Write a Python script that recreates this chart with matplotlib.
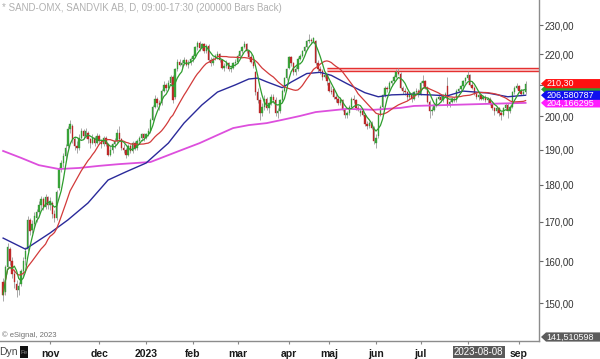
import matplotlib
matplotlib.use('Agg')
import matplotlib.pyplot as plt
from matplotlib.patches import Polygon, Rectangle
from matplotlib.ticker import FixedLocator, FuncFormatter, NullLocator
import numpy as np
import pandas as pd

plt.rcParams['font.family'] = ['Liberation Sans', 'DejaVu Sans']

# handelsdagar Nasdaq Stockholm
holidays = ['2022-12-26', '2023-01-06', '2023-04-07', '2023-04-10',
            '2023-05-01', '2023-05-18', '2023-06-06', '2023-06-23']
dates = pd.bdate_range('2022-10-03', '2023-09-06', freq='C', holidays=holidays)

# OHLC (okt 2022 - sep 2023)
opens = [
    155.0, 152.5, 158.5, 163.0, 160.0, 157.0, 154.5, 153.0, 154.5, 157.5, 160.5, 163.0, 170.5, 168.0, 169.5, 171.0, 172.5, 174.5, 176.0, 174.0, 176.5,
    174.5, 175.0, 172.0, 171.0, 179.0, 184.5, 186.0, 188.0, 191.0, 196.0, 197.0, 193.0, 191.0, 190.5, 193.5, 195.5, 194.0, 195.0, 193.0, 192.0, 193.5, 192.0,
    194.0, 192.5, 191.5, 193.5, 191.5, 188.5, 190.0, 191.5, 192.5, 195.0, 193.0, 190.5, 190.0, 188.5, 191.0, 189.5, 192.0, 190.5, 192.5, 193.5, 194.5,
    193.5, 194.5, 195.5, 199.0, 203.0, 205.5, 204.0, 204.0, 208.0, 210.0, 209.0, 210.5, 212.5, 206.0, 215.0, 217.5, 216.5, 217.0, 218.0, 216.5, 217.0,
    218.5, 219.5, 222.5, 224.0, 222.0, 223.5, 221.0, 223.0, 218.0, 217.0, 218.5, 219.5, 220.0, 218.0, 215.5, 216.0, 217.0, 215.0, 215.5, 217.0,
    217.5, 219.5, 221.0, 222.5, 223.5, 221.0, 219.0, 217.5, 214.0, 207.5, 205.0, 201.0, 203.0, 205.5, 202.5, 204.0, 206.0, 205.0, 201.0, 201.5, 205.0, 208.0, 212.0,
    215.5, 219.0, 217.0, 214.0, 215.0, 218.5, 219.5, 221.0, 222.5, 224.5, 225.0, 224.5, 224.5, 217.0, 215.0, 214.5, 212.5, 213.0,
    210.5, 208.0, 208.5, 206.0, 205.5, 204.0, 205.0, 202.0, 200.5, 201.0, 203.0, 205.5, 205.0, 202.5, 201.0, 201.5, 200.5, 197.5, 197.0, 198.0, 196.5,
    192.0, 194.0, 200.5, 203.0, 206.5, 209.0, 208.5, 210.5, 211.0, 212.5, 214.0, 213.5, 209.0, 208.0, 207.5, 206.0, 207.0, 205.5, 207.5, 208.0,
    207.0, 210.5, 211.0, 209.0, 204.5, 201.5, 202.0, 203.5, 205.5, 206.0, 205.0, 206.5, 209.5, 203.5, 204.5, 205.5, 205.0, 208.0, 208.5, 209.5, 211.0,
    212.0, 213.0, 210.0, 209.0, 207.0, 206.0, 206.5, 205.5, 206.0, 205.0, 205.5, 204.0, 202.5, 201.5, 202.5, 201.0, 200.5, 202.5, 203.5, 201.5, 203.0, 207.5, 209.0,
    209.5, 208.0, 207.0, 207.5,
]
highs = [
    156.0, 159.0, 164.5, 163.5, 161.0, 158.0, 155.5, 155.0, 158.0, 161.0, 163.5, 171.5, 171.0, 170.5, 172.5, 173.5, 175.5, 177.0, 176.5, 177.5, 177.0,
    176.5, 175.5, 173.0, 178.5, 185.0, 187.0, 189.0, 191.5, 197.0, 199.0, 197.5, 194.0, 192.5, 194.5, 196.5, 196.0, 196.5, 195.5, 193.5, 194.5, 194.0, 195.0,
    194.5, 193.0, 194.0, 194.0, 192.0, 191.0, 192.0, 193.5, 196.0, 197.0, 193.5, 191.5, 190.5, 191.5, 191.5, 192.5, 192.5, 193.0, 194.0, 195.0, 195.0,
    195.0, 196.5, 199.5, 203.5, 206.5, 206.0, 205.0, 208.5, 211.0, 210.5, 211.5, 213.0, 213.0, 215.5, 218.5, 218.5, 218.0, 219.0, 218.5, 218.0, 219.0,
    220.0, 223.0, 224.5, 224.5, 224.0, 224.0, 223.5, 223.5, 219.0, 219.0, 220.0, 221.0, 220.5, 218.5, 217.0, 218.0, 217.5, 216.5, 217.5, 218.5,
    220.0, 221.5, 223.0, 224.5, 224.0, 221.5, 220.0, 218.5, 214.5, 209.0, 206.0, 204.0, 206.5, 206.0, 204.5, 207.0, 207.0, 206.0, 202.5, 205.5, 208.5, 212.5, 215.5,
    219.5, 219.5, 217.5, 216.0, 219.0, 220.0, 221.5, 223.0, 225.0, 227.0, 225.5, 226.0, 225.0, 218.0, 216.0, 215.0, 214.0, 213.5,
    211.0, 209.5, 209.0, 207.0, 206.0, 206.0, 205.5, 202.5, 201.5, 203.5, 206.0, 206.5, 205.5, 203.5, 202.5, 202.0, 201.0, 198.5, 198.5, 198.5, 197.0,
    194.5, 201.0, 203.5, 207.0, 209.5, 209.5, 211.0, 211.5, 213.0, 215.0, 215.5, 214.0, 209.5, 209.0, 208.0, 207.5, 207.5, 208.0, 209.0, 208.5,
    211.0, 213.0, 211.5, 209.5, 205.0, 203.0, 204.0, 206.0, 207.0, 206.5, 207.0, 207.5, 212.5, 205.0, 206.0, 206.0, 208.5, 209.0, 210.0, 211.5, 212.5,
    214.5, 213.5, 211.0, 209.5, 207.5, 207.5, 207.0, 206.5, 206.5, 206.0, 206.0, 204.5, 203.0, 203.0, 203.0, 201.5, 203.0, 204.0, 204.0, 203.5, 208.0, 209.5, 210.5,
    210.0, 208.5, 208.5, 211.0,
]
lows = [
    150.5, 152.0, 158.0, 159.0, 156.0, 153.5, 151.5, 152.0, 154.0, 156.5, 159.0, 162.5, 166.5, 167.0, 168.5, 170.0, 172.0, 173.5, 173.0, 173.5, 173.5,
    173.0, 171.0, 170.0, 170.5, 178.5, 183.5, 185.0, 187.0, 190.5, 195.0, 192.0, 190.0, 189.0, 190.0, 193.0, 193.0, 193.5, 192.0, 190.5, 191.5, 191.0, 191.5,
    191.5, 190.5, 191.0, 191.0, 188.0, 188.0, 189.0, 190.5, 192.0, 192.5, 190.0, 189.0, 187.5, 188.0, 189.0, 189.0, 190.0, 190.0, 191.5, 192.5, 192.5,
    193.0, 194.0, 195.0, 198.5, 202.5, 203.0, 202.0, 203.5, 207.5, 208.0, 208.5, 210.0, 204.0, 205.5, 214.5, 216.0, 215.5, 216.5, 216.0, 215.5, 216.5,
    217.5, 219.0, 221.5, 221.0, 221.5, 220.5, 220.5, 217.5, 216.0, 216.5, 218.0, 218.5, 217.5, 215.0, 214.5, 215.5, 214.5, 214.0, 215.0, 216.0,
    217.0, 219.0, 220.5, 222.0, 220.5, 218.5, 217.0, 215.5, 206.5, 204.0, 199.0, 200.0, 202.0, 202.0, 201.0, 203.5, 204.0, 200.0, 199.5, 201.0, 204.5, 207.5, 211.5,
    215.0, 216.0, 213.0, 213.0, 214.5, 218.0, 219.0, 220.5, 222.0, 224.0, 223.5, 224.0, 216.5, 214.0, 213.5, 211.5, 212.0, 210.0,
    207.5, 207.0, 205.5, 204.5, 203.5, 203.5, 201.5, 199.5, 199.5, 200.5, 202.5, 204.0, 202.0, 201.5, 200.0, 200.0, 197.0, 196.0, 196.5, 196.0, 191.5,
    190.5, 193.5, 200.0, 202.5, 206.0, 207.5, 208.0, 209.5, 210.5, 212.0, 213.0, 208.5, 207.0, 206.5, 205.0, 205.5, 204.5, 205.0, 207.0, 206.0,
    206.5, 209.5, 208.5, 204.0, 199.5, 200.5, 201.5, 203.0, 205.0, 204.5, 204.5, 206.0, 203.0, 203.0, 204.0, 204.5, 204.5, 207.5, 208.0, 209.0, 210.5,
    211.5, 209.5, 208.5, 206.5, 205.5, 205.0, 205.0, 205.0, 204.5, 204.0, 203.5, 202.0, 200.5, 201.0, 200.0, 199.0, 200.0, 202.0, 199.5, 201.0, 202.5, 207.0, 208.5,
    207.5, 206.5, 206.5, 207.0,
]
closes = [
    152.0, 158.5, 163.5, 160.0, 157.0, 155.0, 153.0, 154.0, 157.5, 160.0, 162.5, 170.5, 167.5, 169.5, 171.5, 172.5, 174.5, 176.0, 174.0, 176.5, 174.5,
    175.5, 172.0, 171.0, 178.0, 184.5, 186.0, 188.0, 190.5, 196.0, 197.5, 193.0, 191.0, 190.5, 193.5, 195.5, 194.0, 195.5, 193.0, 192.0, 193.5, 192.0, 194.0,
    192.5, 191.5, 193.5, 191.5, 188.5, 190.0, 191.5, 192.5, 195.0, 193.0, 190.5, 190.0, 188.5, 191.0, 189.5, 192.0, 190.5, 192.5, 193.5, 194.5, 193.5,
    194.5, 195.5, 199.0, 203.0, 205.5, 204.0, 203.5, 208.0, 210.0, 209.0, 210.5, 212.5, 205.0, 215.0, 217.5, 216.5, 217.0, 218.0, 216.5, 217.0, 218.5,
    219.5, 222.5, 224.0, 222.0, 223.5, 221.0, 223.0, 218.0, 217.0, 218.5, 219.5, 220.0, 218.0, 215.5, 216.0, 217.0, 215.0, 215.5, 217.0, 217.5,
    219.5, 221.0, 222.5, 223.5, 221.0, 219.0, 217.5, 216.0, 207.5, 205.0, 201.0, 203.0, 205.5, 202.5, 204.0, 206.0, 205.0, 201.0, 201.5, 205.0, 208.0, 212.0, 215.0,
    219.0, 217.0, 214.0, 215.0, 218.5, 219.5, 221.0, 222.5, 224.5, 225.0, 224.5, 225.5, 217.0, 215.0, 214.5, 212.5, 213.0, 211.0,
    208.0, 207.5, 206.0, 205.5, 204.0, 205.0, 202.0, 200.5, 201.0, 203.0, 205.5, 205.0, 202.5, 202.0, 201.5, 200.5, 197.5, 197.0, 198.0, 196.5, 192.5,
    193.5, 200.5, 203.0, 206.5, 209.0, 208.5, 210.5, 211.0, 212.5, 214.0, 213.5, 209.0, 208.0, 207.5, 206.0, 207.0, 205.5, 207.5, 208.0, 207.0,
    210.5, 211.0, 209.0, 204.5, 201.5, 202.0, 203.5, 205.5, 206.0, 205.0, 206.5, 207.0, 203.5, 204.5, 205.5, 205.0, 208.0, 208.5, 209.5, 211.0, 212.0,
    213.0, 210.0, 209.0, 207.0, 206.0, 206.5, 205.5, 206.0, 205.0, 205.5, 204.0, 202.5, 201.5, 202.5, 201.0, 200.5, 202.5, 203.5, 201.5, 203.0, 207.5, 209.0, 209.5,
    208.0, 207.0, 207.5, 210.3,
]

# långa medelvärden (historik före fönstret syns inte), avlästa punkter
ma50_dates = ['2022-10-03', '2022-10-17', '2022-11-01', '2022-11-11', '2022-11-24', '2022-12-07',
              '2022-12-19', '2023-01-02', '2023-01-17', '2023-01-26', '2023-02-07', '2023-02-16',
              '2023-02-28', '2023-03-08', '2023-03-14', '2023-03-20', '2023-03-29', '2023-04-04',
              '2023-04-17', '2023-04-25', '2023-05-03', '2023-05-12', '2023-05-25', '2023-06-02',
              '2023-06-13', '2023-06-27', '2023-07-07', '2023-07-19', '2023-07-28', '2023-08-14',
              '2023-08-25', '2023-09-06']
ma50_vals = [165.8, 163.0, 167.1, 170.5, 175.0, 181.3,
             183.6, 186.1, 191.9, 197.9, 203.5, 207.6,
             209.9, 211.8, 212.1, 210.9, 209.0, 210.8,
             213.6, 214.0, 213.0, 210.3, 207.4, 206.1,
             206.7, 206.9, 206.7, 206.4, 207.9, 207.3,
             206.1, 206.580787]
ma200_dates = ['2022-10-03', '2022-10-13', '2022-10-25', '2022-11-07', '2022-11-18', '2022-12-01',
               '2022-12-14', '2023-01-04', '2023-01-25', '2023-02-06', '2023-02-16', '2023-02-27',
               '2023-03-08', '2023-03-20', '2023-03-29', '2023-04-12', '2023-04-21', '2023-05-12',
               '2023-05-31', '2023-06-19', '2023-06-28', '2023-08-09', '2023-09-06']
ma200_vals = [189.6, 187.6, 185.5, 184.4, 184.7, 185.3,
              185.8, 186.4, 189.9, 191.9, 194.3, 196.4,
              197.3, 197.9, 198.9, 200.1, 201.3, 202.3,
              202.0, 202.6, 203.2, 203.8, 204.166295]

band_start = '2023-04-28'
band_lo, band_hi = 214.4, 215.4

price_ticks = [150, 160, 170, 180, 190, 200, 210, 220, 230]
month_labels = ['nov', 'dec', '2023', 'feb', 'mar', 'apr', 'maj', 'jun', 'jul', 'aug', 'sep']
cursor_date = '2023-08-08'
y_min, y_max = 141.510598, 239.2

GREEN, RED = '#3aa83a', '#c42a2a'

fig = plt.figure(figsize=(6, 3.59), dpi=100)
ax = fig.add_axes([0, 18 / 359, 539 / 600, 341 / 359])

x = np.arange(len(dates))
o = np.array(opens); h = np.array(highs); l = np.array(lows); c = np.array(closes)
up = c >= o

# candles
ax.vlines(x, l, h, color='#9a9a9a', lw=0.6, zorder=2)
ax.bar(x, np.maximum(np.abs(c - o), 0.2), bottom=np.minimum(o, c), width=0.62,
       color=np.where(up, GREEN, RED), edgecolor=np.where(up, '#2f8f2f', '#a82020'),
       lw=0.25, zorder=3)

# medelvärden
s = pd.Series(c)
ma5 = s.rolling(5, min_periods=1).mean()
ma20 = s.rolling(20, min_periods=1).mean()
x50 = dates.get_indexer(pd.to_datetime(ma50_dates), method='nearest')
x200 = dates.get_indexer(pd.to_datetime(ma200_dates), method='nearest')
ax.plot(x200, ma200_vals, color='#dd4fdd', lw=1.3, zorder=4)
ax.plot(x50, ma50_vals, color='#2a2a9a', lw=1.0, zorder=4)
ax.plot(x, ma20, color='#d23a3a', lw=0.9, zorder=5)
ax.plot(x, ma5, color='#2e9e2e', lw=0.9, zorder=5)

x_lo, x_hi = -1.4, 240.0
ax.set_xlim(x_lo, x_hi)
ax.set_yscale('log')
ax.set_ylim(y_min, y_max)

# motståndsband
bx = dates.get_indexer([pd.Timestamp(band_start)])[0]
ax.fill_between([bx, x_hi], band_lo, band_hi, color='#f9d2d2', lw=0, zorder=1)
ax.hlines([band_lo, band_hi], bx, x_hi, color='#e53030', lw=1.0, zorder=1.5)

# axlar
for side in ['top', 'left']:
    ax.spines[side].set_visible(False)
for side in ['right', 'bottom']:
    ax.spines[side].set_color('#8c8c8c')
    ax.spines[side].set_linewidth(1.0)

ax.yaxis.tick_right()
ax.yaxis.set_major_locator(FixedLocator(price_ticks))
ax.yaxis.set_minor_locator(NullLocator())
ax.yaxis.set_major_formatter(FuncFormatter(lambda v, p: f'{v:.2f}'.replace('.', ',')))
ax.tick_params(axis='y', which='major', length=3, width=0.8, color='#666666',
               labelsize=7, labelcolor='#333333', pad=1)

month_pos = [i for i in range(1, len(dates)) if dates[i].month != dates[i - 1].month]
ax.set_xticks(month_pos)
ax.set_xticklabels(month_labels, fontweight='bold')
ax.tick_params(axis='x', length=2.5, width=0.8, color='#888888',
               labelsize=7.5, labelcolor='#1a1a1a', pad=3)

# månaden under markörens datumruta döljs av rutan
cursor_x = dates.get_indexer([pd.Timestamp(cursor_date)])[0]
for pos, lab in zip(month_pos, ax.get_xticklabels()):
    if dates[pos].month == pd.Timestamp(cursor_date).month:
        lab.set_visible(False)

# prisetiketten för senaste kurs täcker skalans 210,00
for tick_v, lab in zip(price_ticks, ax.get_yticklabels()):
    if abs(tick_v - c[-1]) < 1.0:
        lab.set_visible(False)


def fig_y(price):
    yd = ax.transData.transform((0, price))[1]
    return fig.transFigure.inverted().transform((0, yd))[1]


def price_tag(yf, label, face, z):
    hh = 4.6 / 359
    x0, x1 = 541 / 600, 546 / 600
    pts = [(x0, yf), (x1, yf + hh), (1.0, yf + hh), (1.0, yf - hh), (x1, yf - hh)]
    fig.patches.append(Polygon(pts, closed=True, transform=fig.transFigure,
                               fc=face, ec='none', zorder=z))
    if label:
        fig.text(546.5 / 600, yf, label, color='white', fontsize=6.5,
                 va='center', ha='left', zorder=z + 0.1)


def fmt(v, nd):
    return f'{v:.{nd}f}'.replace('.', ',')


price_tag(fig_y(ma200_vals[-1]), fmt(ma200_vals[-1], 6), '#ff1cff', 5)
price_tag(fig_y(ma5.iloc[-1]), None, '#2e9e2e', 6)   # nästan helt dold
price_tag(fig_y(ma50_vals[-1]), fmt(ma50_vals[-1], 6), '#1010ee', 7)
price_tag(fig_y(c[-1]), fmt(c[-1], 2), '#ff1010', 8)
price_tag(fig_y(y_min) + 4 / 359, fmt(y_min, 6), '#5c5c5c', 8)

# markörens datum
ax.text(cursor_x, -11 / 341, cursor_date,
        transform=ax.get_xaxis_transform(), ha='center', va='center', color='white',
        fontsize=7, clip_on=False, zorder=10,
        bbox=dict(boxstyle='square,pad=0.12', fc='#5a5a5a', ec='none'))

# texter
fig.text(2 / 600, 1 - 8 / 359, '* SAND-OMX, SANDVIK AB, D, 09:00-17:30 (200000 Bars Back)',
         fontsize=7, color='#b0b0b0', va='center', ha='left')
fig.text(2 / 600, 1 - 335 / 359, '\u00a9 eSignal, 2023', fontsize=5.5, color='#707070',
         va='center', ha='left')
fig.text(-1 / 600, 1 - 352 / 359, 'Dyn', fontsize=7.5, color='#444444', va='center', ha='left')
fig.patches.append(Rectangle((20 / 600, 1 - 358 / 359), 8 / 600, 12 / 359,
                             transform=fig.transFigure, fc='#111111', ec='none'))
fig.text(24 / 600, 1 - 352 / 359, 'Fe', fontsize=4.5, color='#888888', va='center', ha='center')

fig.savefig('out.png', dpi=100, facecolor='white')
